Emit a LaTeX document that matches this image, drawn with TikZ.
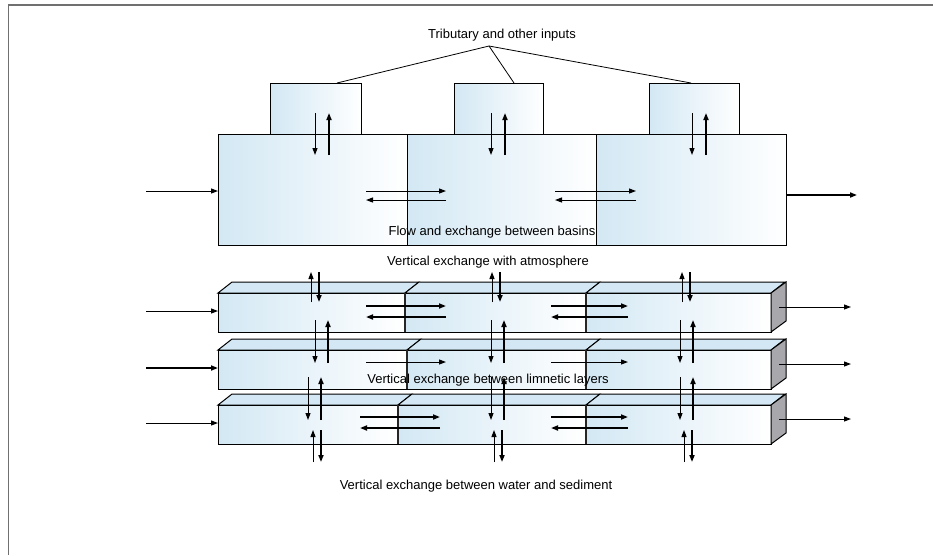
\documentclass[tikz,border=0pt]{standalone}
\usepackage{fontspec}
\setmainfont{Liberation Sans}
\usetikzlibrary{arrows.meta, calc}
\definecolor{faceBlue} {HTML}{D3E8F4}
\definecolor{sideGray} {HTML}{A7A7AC}
\definecolor{frameGray}{HTML}{707070}

\begin{document}
\begin{tikzpicture}[
    x=1pt, y=-1pt,
    basin/.style={draw, line width=1pt, left color=faceBlue, middle color=white,
                  right color=white, inner sep=0pt, anchor=north west, minimum height=111pt},
    inlet/.style={basin, minimum height=51pt},
    lbl/.style={font=\fontsize{13}{15}\selectfont, inner sep=1pt},
    arr/.style={-{Triangle[length=7pt,width=5pt]}, line width=1pt},
    heavy/.style={arr, line width=1.6pt},
    topface/.style={draw, line width=1pt, fill=faceBlue},
    frontface/.style={left color=faceBlue, middle color=white, right color=white},
    sideface/.style={draw, line width=1pt, fill=sideGray},
    edge/.style={draw, line width=1pt},
    divider/.style={line width=2.2pt, draw=black!85},
  ]
    \useasboundingbox (0,0) rectangle (933,555);
    \draw[frameGray, line width=0.8pt] (8,555) -- (8,5);
    \draw[frameGray, line width=1.6pt] (8,5) -- (933,5);

    % basins seen from above
    \node[inlet, minimum width=91pt] (in1) at (270,83) {};
    \node[inlet, minimum width=89pt] (in2) at (454,83) {};
    \node[inlet, minimum width=90pt] (in3) at (649,83) {};
    \node[basin, minimum width=189pt] (b1) at (218,134) {};
    \node[basin, minimum width=189pt] (b2) at (407,134) {};
    \node[basin, minimum width=190pt] (b3) at (596,134) {};

    \node[lbl] (trib) at (502,35) {Tributary and other inputs};
    \coordinate (hub) at (489,46);
    \draw[line width=0.8pt] (hub) -- ([xshift=-25pt]in1.north east);
    \draw[line width=0.8pt] (hub) -- ([xshift=-30pt]in2.north east);
    \draw[line width=0.8pt] (hub) -- ([xshift=-49pt]in3.north east);

    \coordinate (src0) at (146,191);
    \coordinate (out0) at (857,195);
    \draw[arr] (src0) -- (src0 -| b1.west);
    \draw[heavy] (b3.east |- out0) -- (out0);

    \foreach \x in {315, 491, 692} {
      \draw[arr] (\x,113) -- (\x,155);
      \draw[heavy] (\x+14,155) -- (\x+14,113);
    }
    \foreach \xa/\xb in {366/446, 555/636} {
      \draw[arr] (\xa,191) -- (\xb,191);
      \draw[arr] (\xb,200) -- (\xa,200);
    }
    \node[lbl] (flow) at (492,232) {Flow and exchange between basins};
    \node[lbl] (atm) at (488,262) {Vertical exchange with atmosphere};

    % layered basins in section
    \foreach \row/\yt/\xd in {1/293/405, 2/350/407, 3/405/398} {
      \foreach \xa/\xb in {218/\xd, \xd/586, 586/771} {
        \path[topface] (\xa,\yt) -- ++(14,-11) -- (\xb+14,\yt-11) -- (\xb,\yt) -- cycle;
        \shade[frontface] (\xa,\yt) rectangle (\xb,\yt+39);
        \path[edge] (\xa,\yt) rectangle (\xb,\yt+39);
      }
      \path[sideface] (771,\yt) -- ++(15,-11) -- ++(0,39) -- (771,\yt+39) -- cycle;
      \draw[divider] (\xd,\yt) -- (\xd,\yt+39);
      \draw[divider] (586,\yt) -- (586,\yt+39);
      \coordinate (w\row) at (218,\yt+18);
      \coordinate (s\row) at (146,\yt+18);
      \coordinate (e\row) at (779,\yt+14);
      \coordinate (t\row) at (851,\yt+14);
    }
    \draw[arr] (s1) -- (w1);
    \draw[heavy] (s2) -- (w2);
    \draw[arr] (s3) -- (w3);
    \foreach \row in {1,2,3} {
      \draw[arr] (e\row) -- (t\row);
    }

    \foreach \y/\xa/\xb in {306/366/446, 306/551/628, 417/360/440, 417/551/628} {
      \draw[heavy] (\xa,\y) -- (\xb,\y);
      \draw[heavy] (\xb,\y+11) -- (\xa,\y+11);
    }
    \foreach \xa/\xb in {366/446, 551/628} {
      \draw[arr] (\xa,362) -- (\xb,362);
    }

    % vertical exchange
    \foreach \x in {311, 492, 682} {
      \draw[arr] (\x,302) -- (\x,272);
      \draw[heavy] (\x+8,272) -- (\x+8,302);
      \draw[arr] (\x+2,462) -- (\x+2,430);
      \draw[heavy] (\x+10,430) -- (\x+10,462);
    }
    \foreach \x/\y in {315/320, 491/320, 680/320, 308/377, 491/377, 680/377} {
      \draw[arr] (\x,\y) -- (\x,\y+43);
      \draw[heavy] (\x+13,\y+43) -- (\x+13,\y);
    }

    \node[lbl] (limn) at (488,380) {Vertical exchange between limnetic layers};
    \node[lbl] (sed) at (476,486) {Vertical exchange between water and sediment};
  \end{tikzpicture}
\end{document}
